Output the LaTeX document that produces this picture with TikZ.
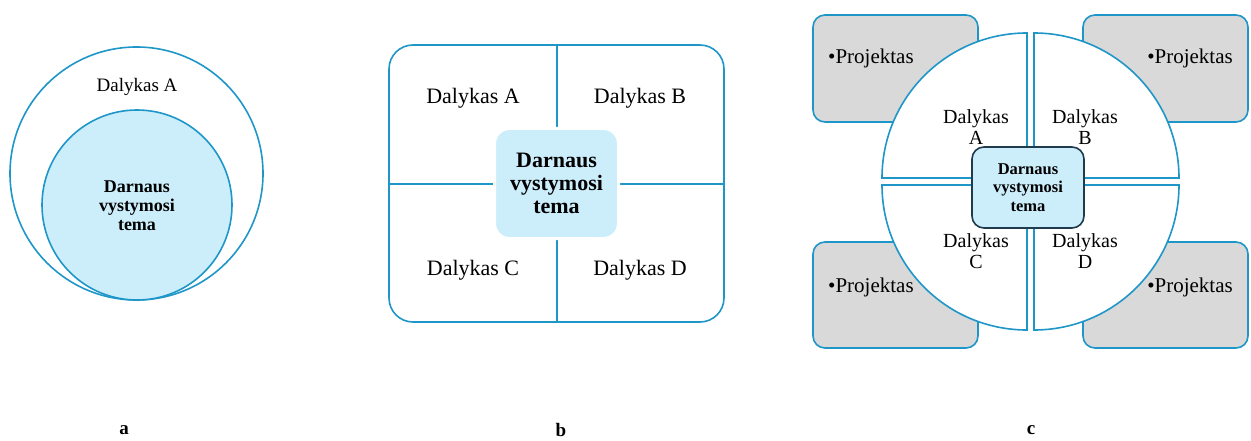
\documentclass[tikz,border=0pt]{standalone}
\usepackage{fontspec}
\setmainfont{Liberation Serif}
\definecolor{cblue}{HTML}{1E96C8}
\definecolor{cfill}{HTML}{CCEEFB}
\definecolor{cgray}{HTML}{D9D9D9}
\definecolor{cdark}{HTML}{1F3B4D}
\tikzset{
  bl/.style={draw=cblue, line width=1.6pt},
  lbl/.style={font=\fontsize{19}{21}\selectfont, inner sep=0pt},
  lblb/.style={font=\fontsize{22}{24}\selectfont, inner sep=0pt},
  lblc/.style={font=\fontsize{20}{21}\selectfont, inner sep=0pt, align=center},
  core/.style={font=\bfseries, align=center, inner sep=0pt},
  proj/.style={font=\fontsize{21}{22}\selectfont, inner sep=0pt},
  gbox/.style={draw=cblue, line width=1.6pt, fill=cgray, rounded corners=12pt},
  panel/.style={font=\bfseries\fontsize{19}{20}\selectfont, inner sep=0pt},
}
\begin{document}
\begin{tikzpicture}[x=1pt,y=-1pt]
\useasboundingbox (0,0) rectangle (1251,441);
% ---- panel a
\draw[bl] (136.5,173.5) circle (126.5);
\draw[bl, fill=cfill] (137,205) circle (95);
\node[lbl] (aA) at (137,87) {Dalykas A};
\node[core, font=\bfseries\fontsize{18}{19}\selectfont] (acore) at (137,206) {Darnaus\\vystymosi\\tema};
% ---- panel b
\draw[bl, rounded corners=24pt] (389,45) rectangle (724,322);
\draw[bl] (557,45) -- (557,322);
\draw[bl] (389,184) -- (724,184);
\node[draw=white, line width=3pt, fill=cfill, rounded corners=15pt, minimum width=124pt, minimum height=110pt] (bbox) at (556.5,183.5) {};
\node[core, font=\bfseries\fontsize{22}{23}\selectfont] (bcore) at (bbox) {Darnaus\\vystymosi\\tema};
\node[lblb] (bA) at (473,98) {Dalykas A};
\node[lblb] (bB) at (640,98) {Dalykas B};
\node[lblb] (bC) at (473,270) {Dalykas C};
\node[lblb] (bD) at (640,270) {Dalykas D};
% ---- panel c
\draw[gbox] (813,15) rectangle (978,122);
\draw[gbox] (1083,15) rectangle (1248,122);
\draw[gbox] (813,242) rectangle (978,348);
\draw[gbox] (1083,242) rectangle (1248,348);
\node[proj, anchor=west] (p1) at (828,58) {•Projektas};
\node[proj, anchor=east] (p2) at (1233,58) {•Projektas};
\node[proj, anchor=west] (p3) at (828,287) {•Projektas};
\node[proj, anchor=east] (p4) at (1233,287) {•Projektas};
\def\R{145}
\draw[bl, fill=white] (1027,178) -- ++(-\R,0) arc[start angle=180, end angle=270, radius=\R] -- cycle;
\draw[bl, fill=white] (1034,178) -- ++(0,-\R) arc[start angle=-90, end angle=0, radius=\R] -- cycle;
\draw[bl, fill=white] (1027,185) -- ++(0,\R) arc[start angle=90, end angle=180, radius=\R] -- cycle;
\draw[bl, fill=white] (1034,185) -- ++(\R,0) arc[start angle=0, end angle=90, radius=\R] -- cycle;
\node[draw=cdark, line width=1.6pt, fill=cfill, rounded corners=12pt, minimum width=112pt, minimum height=81pt] (cbox) at (1028,187.5) {};
\node[core, font=\bfseries\fontsize{16.5}{18.5}\selectfont] (ccore) at (cbox) {Darnaus\\vystymosi\\tema};
\node[lblc] (cA) at (976,127) {Dalykas\\A};
\node[lblc] (cB) at (1085,127) {Dalykas\\B};
\node[lblc] (cC) at (976,251) {Dalykas\\C};
\node[lblc] (cD) at (1085,251) {Dalykas\\D};
% ---- panel labels
\node[panel] (la) at (124,430) {a};
\node[panel] (lb) at (561,430) {b};
\node[panel] (lc) at (1031,430) {c};
\end{tikzpicture}
\end{document}
